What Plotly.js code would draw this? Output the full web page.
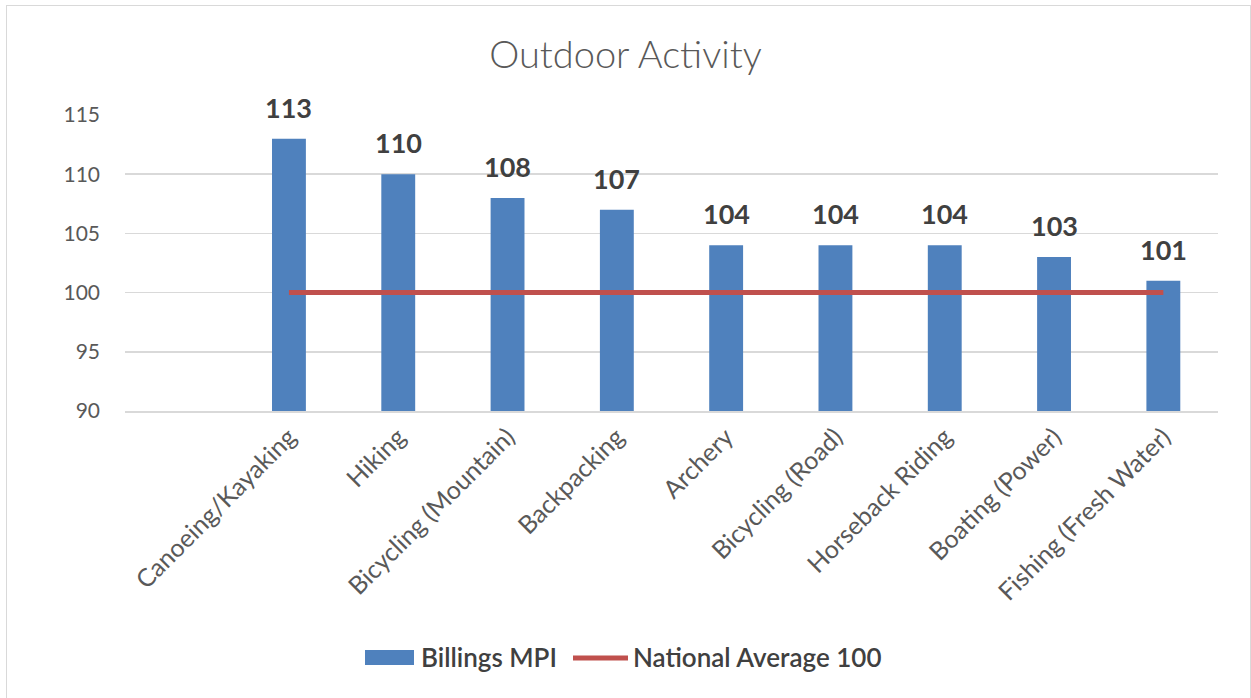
<!DOCTYPE html>
<html>
<head>
<meta charset="utf-8">
<script src="https://cdn.plot.ly/plotly-3.0.1.min.js"></script>
<style>
  html, body { margin: 0; padding: 0; background: #ffffff; overflow: hidden; }
  #wrap { position: relative; width: 1251px; height: 698px; overflow: hidden; }
  #frame { position: absolute; left: 6px; top: 5px; width: 1245px; height: 710px;
           border: 1.5px solid #d9d9d9; box-sizing: border-box; pointer-events: none; }
  #chart { position: absolute; left: 0; top: 0; width: 1251px; height: 698px; }
</style>
</head>
<body>
<div id="wrap">
  <div id="chart"></div>
  <div id="frame"></div>
</div>
<script>
// Activities ranked by Billings market potential index
const activities = [
  "Canoeing/Kayaking", "Hiking", "Bicycling (Mountain)", "Backpacking",
  "Archery", "Bicycling (Road)", "Horseback Riding", "Boating (Power)",
  "Fishing (Fresh Water)"
];
const billingsMPI = [113, 110, 108, 107, 104, 104, 104, 103, 101];
const nationalAverage = [100, 100, 100, 100, 100, 100, 100, 100, 100];
const yTicks = [90, 95, 100, 105, 110, 115];
const seriesNames = ["Billings MPI", "National Average 100"];

const font = "Lato, 'Open Sans', 'DejaVu Sans', sans-serif";
const blue = "#4f81bd";
const red = "#c0504d";

// plot area in pixels, used to place the legend items in paper units
const M = { l: 125, r: 33, t: 115, b: 287 };
const W = 1251, H = 698;
const pw = W - M.l - M.r, ph = H - M.t - M.b;
const px = v => (v - M.l) / pw;
const py = v => (H - M.b - v) / ph;

const traces = [
  {
    type: "bar",
    name: seriesNames[0],
    x: activities,
    y: billingsMPI,
    width: 0.31,
    marker: { color: blue },
    hoverinfo: "x+y"
  },
  {
    type: "scatter",
    mode: "lines",
    name: seriesNames[1],
    x: activities,
    y: nationalAverage,
    line: { color: red, width: 5 },
    hoverinfo: "x+y"
  }
];

// value labels above each bar
const valueLabels = activities.map((a, i) => ({
  x: a, y: billingsMPI[i], xref: "x", yref: "y",
  text: String(billingsMPI[i]),
  showarrow: false, yanchor: "bottom", yshift: 13,
  font: { family: font, size: 27, color: "#404040", weight: "bold" }
}));

// legend drawn as shapes + text
const legendFont = { family: font, size: 26, color: "#404040", weight: 600 };
const legendText = [
  { x: px(419), y: py(657), xref: "paper", yref: "paper", text: seriesNames[0],
    showarrow: false, xanchor: "left", yanchor: "middle", font: legendFont },
  { x: px(631), y: py(657), xref: "paper", yref: "paper", text: seriesNames[1],
    showarrow: false, xanchor: "left", yanchor: "middle", font: legendFont }
];
const legendShapes = [
  { type: "rect", xref: "paper", yref: "paper",
    x0: px(365), x1: px(414), y0: py(665), y1: py(650),
    fillcolor: blue, line: { width: 0 } },
  { type: "line", xref: "paper", yref: "paper",
    x0: px(573), x1: px(628), y0: py(658), y1: py(658),
    line: { color: red, width: 5 } }
];

const layout = {
  width: W,
  height: H,
  margin: M,
  paper_bgcolor: "#ffffff",
  plot_bgcolor: "#ffffff",
  font: { family: font, color: "#595959" },
  title: {
    text: "Outdoor Activity",
    font: { family: font, size: 38, color: "#595959", weight: 300 },
    x: 0.5, xanchor: "center",
    y: 1 - 55 / H, yref: "container", yanchor: "middle"
  },
  showlegend: false,
  xaxis: {
    type: "category",
    range: [-1.5, 8.5],
    tickangle: -45,
    tickfont: { family: font, size: 25, color: "#595959" },
    showgrid: false,
    showline: true,
    linecolor: "#d9d9d9",
    linewidth: 1.5,
    ticks: "",
    fixedrange: true
  },
  yaxis: {
    range: [90, 115],
    tickvals: yTicks,
    ticktext: yTicks.map(String),
    tickfont: { family: font, size: 21, color: "#595959" },
    showgrid: true,
    gridcolor: "#d9d9d9",
    gridwidth: 1.5,
    zeroline: false,
    showline: false,
    ticks: "",
    ticklabelstandoff: 24,
    fixedrange: true
  },
  annotations: valueLabels.concat(legendText),
  shapes: legendShapes
};

Plotly.newPlot("chart", traces, layout, { displayModeBar: false, staticPlot: true });
</script>
</body>
</html>
